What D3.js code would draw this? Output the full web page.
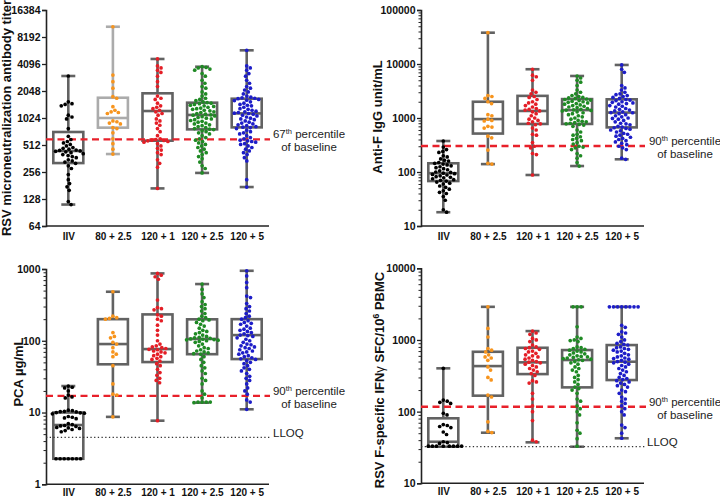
<!DOCTYPE html>
<html><head><meta charset="utf-8">
<script src="https://cdn.jsdelivr.net/npm/d3@7"></script>
<style>body{margin:0;background:#fff}svg{display:block}text{font-family:"Liberation Sans",Arial,sans-serif}</style>
</head><body><svg id="c" width="720" height="499"></svg>
<script>
const categories = ["IIV","80 + 2.5","120 + 1","120 + 2.5","120 + 5"];
const groupColors = ["#000000","#f7941d","#e41e26","#1f8a24","#1d1dc8"];

// Panel A: RSV microneutralization antibody titer
const a_ticks = [64,128,256,512,1024,2048,4096,8192,16384];
const a_box = [[111,322,439,715,3010],[406,799,1024,1723,10660],[168,572,1225,1930,4660],[250,765,1107,1517,3820],[174,805,1152,1680,5820]];
const a_iiv = [3010,1550,1480,1450,1400,1100,1050,1000,780,640,590,560,540,520,500,480,470,460,450,445,440,435,430,420,410,400,390,380,370,350,340,330,320,300,280,240,210,190,175,160,120,111];
const a_80 = [10660,3080,2600,2200,1770,1700,1370,1250,1200,1180,1150,950,930,900,880,800,780,700,600,530,460,406];
const a_120_1 = [4660,3900,3700,3500,3300,3000,2600,2300,1800,1700,1650,1500,1400,1350,1300,1250,1200,1150,1100,1000,950,900,850,780,720,650,600,590,580,575,570,560,550,530,500,470,450,420,400,350,320,290,168];
const a_120_25 = [3820,3750,3700,3600,3500,3200,3000,2700,2500,2300,2200,2000,1900,1800,1700,1650,1600,1550,1520,1500,1480,1450,1420,1400,1380,1350,1320,1300,1280,1250,1230,1200,1180,1150,1130,1110,1100,1080,1060,1040,1020,1000,980,960,940,920,900,880,860,840,820,800,780,770,760,740,720,700,680,650,620,600,580,560,540,520,500,480,460,440,420,400,380,360,330,300,280,250];
const a_120_5 = [5820,3900,3700,3500,3200,3000,2700,2500,2300,2200,2100,2000,1900,1800,1750,1720,1700,1680,1650,1620,1600,1550,1500,1450,1420,1400,1350,1300,1280,1250,1220,1200,1180,1160,1150,1130,1100,1080,1050,1020,1000,980,950,920,900,880,860,840,820,810,800,780,750,720,700,680,650,620,600,580,570,560,550,530,520,500,480,460,440,420,400,370,340,210,174];
const a_threshold = 593;

// Panel B: Anti-F IgG unit/mL
const b_ticks = [10,100,1000,10000,100000];
const b_box = [[18,68,95,145,375],[140,515,955,2000,38000],[88,776,1350,2570,8000],[129,776,1400,2240,6000],[172,670,1260,2220,9600]];
const b_iiv = [375,290,260,240,230,200,190,175,165,160,150,145,140,135,130,125,120,115,110,105,100,98,95,93,90,88,85,82,80,78,75,72,70,68,65,62,60,55,52,48,45,42,40,35,30,20,18];
const b_80 = [38000,2600,2500,2300,2000,1850,1150,1100,950,900,880,700,680,650,460,430,255,145,140];
const b_120_1 = [8000,6200,5800,5000,3300,3000,2800,2500,2400,2200,2000,1900,1800,1700,1600,1500,1450,1400,1350,1300,1200,1100,1000,950,900,850,800,780,750,650,600,500,480,350,300,280,220,210,88];
const b_120_25 = [6000,5500,5000,4600,4000,3300,3000,2800,2600,2500,2400,2350,2300,2250,2200,2150,2100,2050,2000,1950,1900,1850,1800,1750,1700,1650,1600,1550,1500,1450,1420,1400,1380,1350,1300,1250,1200,1150,1100,1050,1000,950,900,870,850,820,800,780,760,740,700,600,550,500,480,450,420,400,380,350,330,300,290,280,260,220,200,180,150,129];
const b_120_5 = [9600,8000,7000,4000,3600,3300,3000,2800,2700,2600,2500,2400,2300,2200,2150,2100,2000,1950,1900,1850,1800,1700,1650,1600,1500,1450,1400,1350,1300,1260,1250,1200,1150,1100,1050,1000,980,950,900,850,800,780,750,700,680,660,640,620,600,580,550,520,500,480,460,440,420,400,380,360,340,320,300,280,260,180,172];
const b_threshold = 303;

// Panel C: PCA µg/mL
const c_ticks = [1,10,100,1000];
const c_box = [[2.27,2.27,6.7,10,23.4],[8.7,47,90,200,482],[7.7,50.5,76.6,233,868],[13.7,65,106,199,617],[11.1,55.6,120,200,944]];
const c_iiv = [23.4,22.5,22,20,17.5,16.5,16,10.8,10.6,10.4,10.3,10.2,10,9.9,9.8,9.6,8.8,8.6,8.4,8.2,7,6.8,6.6,6.5,6.4,6.2,6.1,6,5.8,5.6,5.4,2.27,2.27,2.27,2.27,2.27,2.27,2.27];
const c_80 = [482,220,210,205,200,130,115,110,95,90,80,70,65,60,45,25,18,17.5,8.7];
const c_120_1 = [868,820,780,720,370,290,280,270,230,220,200,190,165,140,120,100,90,85,82,80,78,76,75,72,70,68,65,62,60,57,55,52,48,45,40,36,33,30,28,26,7.7];
const c_120_25 = [617,520,450,400,350,320,300,280,260,240,220,210,200,195,190,180,170,160,150,140,135,130,125,120,115,112,110,108,106,105,104,103,102,100,98,95,90,85,80,78,75,72,70,68,66,65,60,55,50,45,42,38,35,30,28,25,20,18,16,14,14,14,14,13.7];
const c_120_5 = [944,800,650,550,420,400,330,300,280,260,240,220,210,200,190,180,175,170,160,150,145,140,135,130,125,120,118,115,110,105,100,95,90,88,85,82,80,78,75,72,70,68,65,62,60,58,56,55,53,50,48,45,42,40,38,35,32,30,28,25,22,20,18,15,14,11.1];
const c_threshold = 17.1;
const c_lloq = 4.5;

// Panel D: RSV F-specific IFNγ SFC/10^6 PBMC
const d_ticks = [10,100,1000,10000];
const d_box = [[32.4,32.4,38,80.7,402],[50.8,167,432,684,2900],[37.3,334,487,778,1330],[32.4,218,525,723,2900],[42.5,276,497,849,2900]];
const d_iiv = [402,145,140,135,130,95,90,66,64,62,60,52,48,38,37,36,33,33,33,33,33,33,33,33];
const d_80 = [2900,1450,1100,760,720,680,620,580,560,520,420,380,300,277,170,160,72,53,51];
const d_120_1 = [1330,1250,1200,1050,1000,950,850,800,780,760,740,700,680,650,620,600,580,560,540,520,500,490,480,460,440,420,400,380,360,340,320,270,260,250,180,150,120,100,75,40,38];
const d_120_25 = [2900,2900,2900,1530,1100,1050,1000,980,950,800,780,760,740,720,700,680,660,640,620,600,590,580,570,560,550,540,530,520,500,480,460,420,400,380,360,320,300,280,260,240,220,210,200,180,150,140,120,110,100,90,70,55,50,42,33];
const d_120_5 = [2900,2900,2900,2900,2900,2900,2900,2900,1600,1500,1300,1250,1200,1100,1000,950,900,870,850,800,780,760,740,720,700,680,650,620,600,580,560,550,540,520,500,490,480,460,440,420,400,380,360,340,320,300,290,280,270,260,250,240,230,220,200,190,180,160,150,140,130,120,110,100,90,65,60,50,42.5];
const d_threshold = 117;
const d_lloq = 32.4;

const svg = d3.select("#c");

function swarm(vals, y, D) {
  const pts = vals.map(v => ({v, y: y(v)})).sort((a, b) => a.y - b.y);
  const placed = [];
  for (const p of pts) {
    const near = placed.filter(q => Math.abs(q.y - p.y) < D);
    const cands = [0];
    for (const q of near) {
      const dx = Math.sqrt(D * D - (q.y - p.y) ** 2);
      cands.push(q.x + dx, q.x - dx);
    }
    cands.sort((a, b) => Math.abs(a) - Math.abs(b));
    for (const c of cands) {
      if (near.every(q => (q.x - c) ** 2 + (q.y - p.y) ** 2 >= D * D - 1e-6)) { p.x = c; break; }
    }
    placed.push(p);
  }
  return placed;
}

function panel(cfg) {
  const g = svg.append("g");
  const x = d3.scalePoint().domain(categories).range([cfg.x0 + 22.3, cfg.x0 + 200.7]);
  const y = (cfg.base === 2 ? d3.scaleLog().base(2) : d3.scaleLog()).domain(cfg.domain).range([cfg.yb, cfg.yt]);

  const ax = g.append("g").attr("transform", `translate(${cfg.x0},0)`)
    .call(d3.axisLeft(y).tickValues(cfg.ticks).tickFormat(d3.format("d")).tickSize(4).tickPadding(1.5));
  ax.select(".domain").attr("stroke", "#222").attr("stroke-width", 1.6);
  ax.selectAll(".tick line").attr("stroke", "#222").attr("stroke-width", 1.3);
  ax.selectAll("text").attr("font-size", 10.5).attr("font-weight", "bold").attr("fill", "#111").attr("font-family", "Liberation Sans, Arial, sans-serif");
  if (cfg.base !== 2) {
    const minor = [];
    const [lo, hi] = cfg.domain;
    for (let dec = lo; dec < hi; dec *= 10) for (let k = 2; k <= 9; k++) minor.push(dec * k);
    const mx = g.append("g").attr("transform", `translate(${cfg.x0},0)`)
      .call(d3.axisLeft(y).tickValues(minor).tickFormat("").tickSize(2.5));
    mx.select(".domain").remove();
    mx.selectAll(".tick line").attr("stroke", "#222").attr("stroke-width", 1);
  }
  const xa = g.append("g").attr("transform", `translate(0,${cfg.yb})`)
    .call(d3.axisBottom(x).tickSize(0).tickPadding(cfg.xpad));
  xa.select(".domain").attr("d", `M${cfg.x0},0H${cfg.x0 + 223}`).attr("stroke", "#222").attr("stroke-width", 1.6);
  xa.selectAll("text").attr("font-size", 10).attr("font-weight", "bold").attr("fill", "#111").attr("font-family", "Liberation Sans, Arial, sans-serif");

  const t = g.append("text").attr("transform", `translate(${cfg.tx},${cfg.ty}) rotate(-90)`)
    .attr("text-anchor", "middle").attr("font-size", 13).attr("font-weight", "bold").attr("fill", "#111");
  cfg.title(t);

  cfg.box.forEach((b, i) => {
    const cx = x(categories[i]);
    const col = (cfg.lightBox === i) ? "#ababab" : "#626262";
    const bg = g.append("g").attr("stroke", col).attr("stroke-width", 2.6).attr("fill", "none");
    const [mn, q1, md, q3, mxv] = b;
    if (y(mn) - y(q1) > 0.5) bg.append("line").attr("x1", cx).attr("x2", cx).attr("y1", y(q1)).attr("y2", y(mn));
    bg.append("line").attr("x1", cx).attr("x2", cx).attr("y1", y(mxv)).attr("y2", y(q3));
    bg.append("line").attr("x1", cx - 7).attr("x2", cx + 7).attr("y1", y(mxv)).attr("y2", y(mxv));
    if (y(mn) - y(q1) > 0.5) bg.append("line").attr("x1", cx - 7).attr("x2", cx + 7).attr("y1", y(mn)).attr("y2", y(mn));
    bg.append("rect").attr("x", cx - 15).attr("width", 30).attr("y", y(q3)).attr("height", y(q1) - y(q3));
    bg.append("line").attr("x1", cx - 15).attr("x2", cx + 15).attr("y1", y(md)).attr("y2", y(md));
  });

  g.append("line").attr("x1", cfg.x0).attr("x2", cfg.lineEnd).attr("y1", y(cfg.threshold)).attr("y2", y(cfg.threshold))
    .attr("stroke", "#e8202a").attr("stroke-width", 2.3).attr("stroke-dasharray", "7,4.5");
  if (cfg.lloq) {
    g.append("line").attr("x1", cfg.x0).attr("x2", cfg.lineEnd).attr("y1", y(cfg.lloq)).attr("y2", y(cfg.lloq))
      .attr("stroke", "#333").attr("stroke-width", 1.2).attr("stroke-dasharray", "1.3,2.4");
  }

  cfg.groups.forEach((vals, i) => {
    const cx = x(categories[i]);
    const pts = swarm(vals, y, 4.1);
    g.append("g").selectAll("circle").data(pts).join("circle")
      .attr("cx", d => cx + d.x).attr("cy", d => d.y).attr("r", 1.85).attr("fill", groupColors[i]);
  });

  const ann = g.append("g").attr("font-size", 11.5).attr("fill", "#222");
  const l1 = ann.append("text").attr("x", cfg.annX).attr("y", cfg.annY).attr("text-anchor", "middle");
  l1.append("tspan").text(cfg.pct);
  l1.append("tspan").text("th").attr("font-size", 7.5).attr("dy", -4.5);
  l1.append("tspan").text(" percentile").attr("dy", 4.5);
  ann.append("text").attr("x", cfg.annX).attr("y", cfg.annY + 13).attr("text-anchor", "middle").text("of baseline");
  if (cfg.lloq) ann.append("text").attr("x", cfg.lloqX).attr("y", cfg.lloqY).text("LLOQ");
}

panel({x0: 46, yb: 226, yt: 10, base: 2, domain: [64, 16384], ticks: a_ticks, box: a_box, lightBox: 1,
  groups: [a_iiv, a_80, a_120_1, a_120_25, a_120_5], threshold: a_threshold, lineEnd: 270, xpad: 7,
  tx: 11, ty: 118, title: t => t.text("RSV microneutralization antibody titer"),
  pct: "67", annX: 309, annY: 138});
panel({x0: 421, yb: 226, yt: 10, base: 10, domain: [10, 100000], ticks: b_ticks, box: b_box,
  groups: [b_iiv, b_80, b_120_1, b_120_25, b_120_5], threshold: b_threshold, lineEnd: 645, xpad: 7,
  tx: 381.5, ty: 117, title: t => t.text("Anti-F IgG unit/mL"),
  pct: "90", annX: 685, annY: 145});
panel({x0: 46, yb: 484.3, yt: 269, base: 10, domain: [1, 1000], ticks: c_ticks, box: c_box,
  groups: [c_iiv, c_80, c_120_1, c_120_25, c_120_5], threshold: c_threshold, lloq: c_lloq, lineEnd: 270, xpad: 4.5,
  tx: 22.5, ty: 372, title: t => t.text("PCA µg/mL"),
  pct: "90", annX: 309, annY: 395, lloqX: 273, lloqY: 437});
panel({x0: 421, yb: 483.3, yt: 268.3, base: 10, domain: [10, 10000], ticks: d_ticks, box: d_box,
  groups: [d_iiv, d_80, d_120_1, d_120_25, d_120_5], threshold: d_threshold, lloq: d_lloq, lineEnd: 646, xpad: 5,
  tx: 384, ty: 380, title: t => {
    t.append("tspan").text("RSV F-specific IFN");
    t.append("tspan").text("γ").attr("font-weight", "normal");
    t.append("tspan").text(" SFC/10");
    t.append("tspan").text("6").attr("font-size", 8.5).attr("dy", -5);
    t.append("tspan").text(" PBMC").attr("dy", 5);
  },
  pct: "90", annX: 685, annY: 406, lloqX: 647, lloqY: 446});
</script></body></html>
